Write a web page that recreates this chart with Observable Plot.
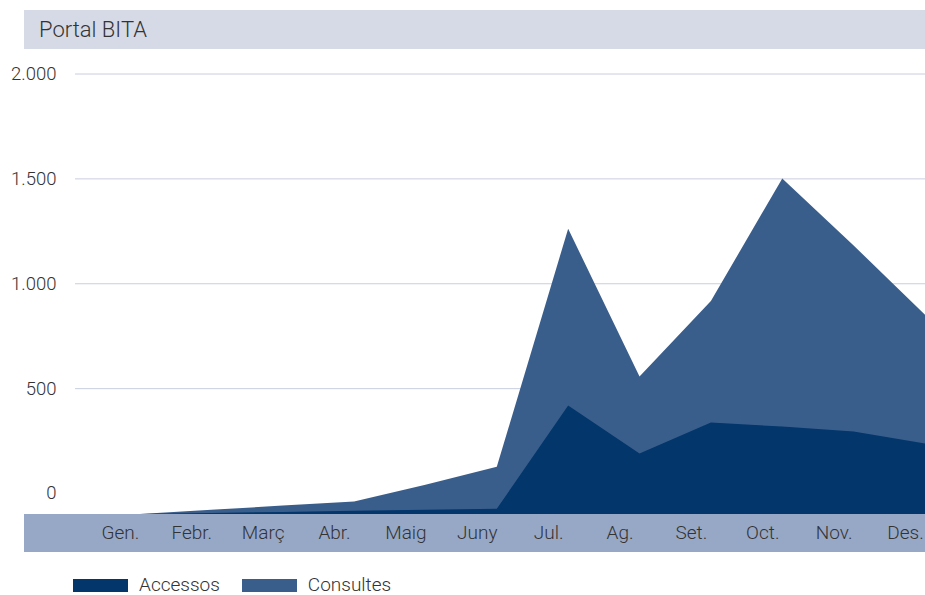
<!DOCTYPE html>
<html>
<head>
<meta charset="utf-8">
<script src="https://cdn.jsdelivr.net/npm/d3@7"></script>
<script src="https://cdn.jsdelivr.net/npm/@observablehq/plot@0.6"></script>
<style>
  html, body { margin: 0; padding: 0; background: #fff; }
  #wrap { position: relative; width: 925px; height: 595px; font-family: Roboto, "Liberation Sans", sans-serif; font-weight: 300; color: #333; }
  #title { position: absolute; left: 24px; top: 10px; width: 901px; height: 39px; background: #d5dae6; }
  #title span { position: absolute; left: 15px; top: 7px; font-size: 22px; line-height: 25px; color: #333; }
  #xband { position: absolute; left: 24px; top: 514px; width: 901px; height: 38px; background: #97a8c7; }
  #chart { position: absolute; left: 0; top: 0; }
  #legend { position: absolute; left: 73px; top: 574px; display: flex; align-items: center; font-size: 19px; line-height: 22px; color: #333; }
  .sw { display: inline-block; width: 55px; height: 13px; margin-right: 11px; }
  .item { display: flex; align-items: center; margin-right: 22px; }
</style>
</head>
<body>
<div id="wrap">
  <div id="title"><span>Portal BITA</span></div>
  <div id="xband"></div>
  <div id="chart"></div>
  <div id="legend"></div>
</div>
<script>
// ---- data ----
const months = ["Gen.", "Febr.", "Març", "Abr.", "Maig", "Juny", "Jul.", "Ag.", "Set.", "Oct.", "Nov.", "Des."];
const accessos = [-100, -95, -90, -85, -80, -75, 417, 188, 336, 317, 293, 236];
const consultes = [-100, -80, -60, -40, 40, 125, 1260, 555, 915, 1500, 1180, 850];
const yTicks = [0, 500, 1000, 1500, 2000];
const seriesNames = ["Accessos", "Consultes"];
const seriesColors = ["#03366a", "#3a5e8c"];

const Y_MIN = -100;
const rowsA = months.map((m, i) => ({i, month: m, value: accessos[i]}));
const rowsC = months.map((m, i) => ({i, month: m, value: consultes[i]}));

const loc = d3.formatLocale({decimal: ",", thousands: ".", grouping: [3], currency: ["", " €"]});
const fmt = loc.format(",d");

const chart = Plot.plot({
  width: 925,
  height: 552,
  marginTop: 73.5,
  marginBottom: 38,
  marginLeft: 75,
  marginRight: 0,
  style: {background: "transparent", fontFamily: "Roboto, 'Liberation Sans', sans-serif", fontSize: "18px", fontWeight: 300, color: "#333"},
  x: {type: "linear", domain: [-0.91, 11]},
  y: {domain: [Y_MIN, 2000]},
  marks: [
    Plot.gridY(yTicks.filter(d => d > 0), {stroke: "#c8cede", strokeOpacity: 1, strokeWidth: 1}),
    Plot.areaY(rowsC, {x: "i", y1: () => Y_MIN, y2: "value", fill: seriesColors[1]}),
    Plot.areaY(rowsA, {x: "i", y1: () => Y_MIN, y2: "value", fill: seriesColors[0]}),
    Plot.axisY({ticks: yTicks, tickFormat: fmt, tickSize: 0, tickPadding: 19, label: null, fontSize: 18.5}),
    Plot.axisX({ticks: d3.range(months.length), tickFormat: i => months[i], tickSize: 0, tickPadding: 11, dx: -20, label: null, fontSize: 19})
  ]
});
document.getElementById("chart").appendChild(chart);

const legend = document.getElementById("legend");
seriesNames.forEach((n, k) => {
  const it = document.createElement("div");
  it.className = "item";
  const sw = document.createElement("span");
  sw.className = "sw";
  sw.style.background = seriesColors[k];
  const t = document.createElement("span");
  t.textContent = n;
  it.appendChild(sw); it.appendChild(t);
  legend.appendChild(it);
});
</script>
</body>
</html>
